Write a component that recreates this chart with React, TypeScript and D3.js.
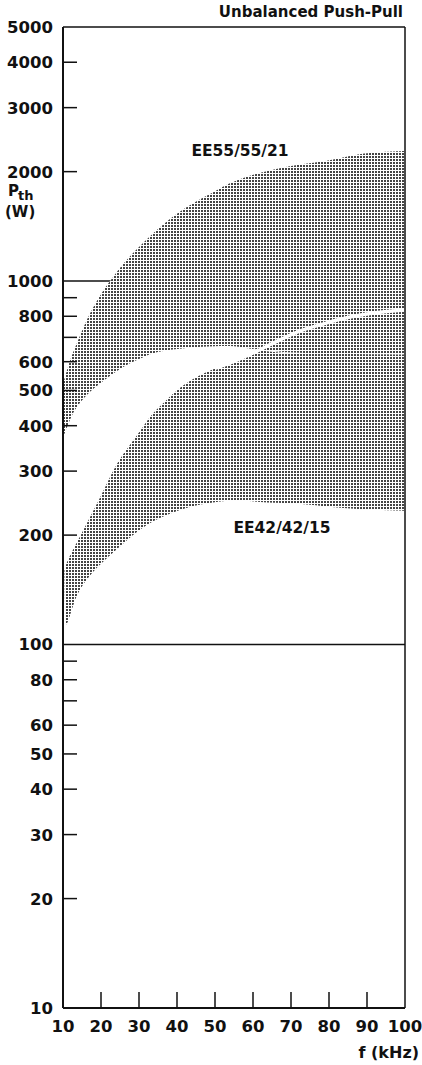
import React from "react";
import * as d3 from "d3";

// boundaries: [f (kHz), Pth (W)]
const ee55Upper: [number, number][] = [
  [10, 520], [12, 610], [13.9, 684], [17, 810], [20.3, 930], [22.4, 1000], [26, 1120],
  [31.6, 1288], [36, 1420], [42.1, 1586], [50, 1767], [52.6, 1830], [58, 1930],
  [65.8, 2030], [72, 2090], [79, 2140], [87.6, 2230], [94, 2265], [100, 2280],
];
const ee55Lower: [number, number][] = [
  [10, 370], [13, 440], [16.6, 490], [20, 525], [25.5, 577], [30, 610], [34, 634],
  [43, 655], [50, 662], [55, 662], [60, 650], [70, 634], [85, 632], [100, 630],
];
const ee42Upper: [number, number][] = [
  [10.4, 160], [11, 168], [15.3, 206], [19.7, 253], [24.2, 314], [30.3, 387],
  [33.5, 430], [37, 468], [41, 510], [44.7, 541], [50, 575], [55.3, 603], [60, 634],
  [66, 680], [72.4, 729], [79, 765], [85.5, 796], [92, 818], [100, 833],
];
const ee42Lower: [number, number][] = [
  [10.6, 113], [11, 114], [13.9, 138], [17.6, 157], [23.7, 181], [30.8, 209],
  [36.8, 226], [44.7, 241], [55.3, 249], [63.7, 246], [72, 244], [84.7, 237], [100, 233],
];

const yLabels = [5000, 4000, 3000, 2000, 1000, 800, 600, 500, 400, 300, 200, 100, 80, 60, 50, 40, 30, 20, 10];
const yTicks = [4000, 3000, 2000, 900, 800, 700, 600, 500, 400, 300, 200, 90, 80, 70, 60, 50, 40, 30, 20];
const yGrid = [1000, 100];
const xTicks = [10, 20, 30, 40, 50, 60, 70, 80, 90, 100];

const W = 422, H = 1065;
const left = 63, right = 405, top = 27, bottom = 1008;
const font = "'DejaVu Sans', sans-serif";

export default function App() {
  const x = d3.scaleLinear().domain([10, 100]).range([left, right]);
  const y = d3.scaleLog().domain([10, 5000]).range([bottom, top]);

  const line = d3.line<[number, number]>()
    .x(d => x(d[0]))
    .y(d => y(d[1]))
    .curve(d3.curveCatmullRom.alpha(0.5));

  const band = (up: [number, number][], low: [number, number][]) => {
    const a = line(up) as string;
    const b = (line([...low].reverse()) as string).replace(/^M/, "L");
    return a + b + "Z";
  };

  return (
    <svg width={W} height={H} style={{ position: "absolute", left: 0, top: 0, background: "#fff" }}>
      <defs>
        <pattern id="dots" width={3} height={3} patternUnits="userSpaceOnUse">
          <rect width={3} height={3} fill="#fff" />
          <rect width={2} height={2} fill="#444" />
        </pattern>
        <clipPath id="plot">
          <rect x={left} y={top} width={right - left} height={bottom - top} />
        </clipPath>
      </defs>

      {yGrid.map(v => (
        <line key={v} x1={left} x2={right} y1={y(v)} y2={y(v)} stroke="#111" strokeWidth={1.5} />
      ))}

      <g clipPath="url(#plot)">
        <path d={band(ee55Upper, ee55Lower)} fill="url(#dots)" />
        <path d={band(ee42Upper, ee42Lower)} fill="url(#dots)" />
        <path d={line(ee42Upper.filter(d => d[0] >= 50)) as string} fill="none" stroke="#fff" strokeWidth={3.5} />
        <path d={line(ee55Lower.filter(d => d[0] >= 60)) as string} fill="none" stroke="#fff" strokeWidth={1} />
      </g>

      {/* frame */}
      <line x1={left} x2={left} y1={top} y2={bottom} stroke="#111" strokeWidth={2} />
      <line x1={right} x2={right} y1={top} y2={bottom} stroke="#111" strokeWidth={1.5} />
      <line x1={left} x2={right} y1={top} y2={top} stroke="#111" strokeWidth={1.5} />
      <line x1={left} x2={right} y1={bottom} y2={bottom} stroke="#111" strokeWidth={2} />

      {yTicks.map(v => (
        <line key={v} x1={left} x2={left + 14} y1={y(v)} y2={y(v)} stroke="#111" strokeWidth={1.5} />
      ))}
      {xTicks.slice(1, -1).map(v => (
        <line key={v} x1={x(v)} x2={x(v)} y1={bottom} y2={bottom - 16} stroke="#111" strokeWidth={1.5} />
      ))}

      <g fontFamily={font} fontWeight="bold" fill="#111">
        {yLabels.map(v => (
          <text key={v} x={53} y={y(v)} dy="0.36em" textAnchor="end" fontSize={16.5}>{v}</text>
        ))}
        {xTicks.map(v => (
          <text key={v} x={x(v)} y={1032} textAnchor="middle" fontSize={16.5}>{v}</text>
        ))}
        <text x={419} y={1058} textAnchor="end" fontSize={16}>f (kHz)</text>
        <text x={403} y={17} textAnchor="end" fontSize={15}>Unbalanced Push-Pull</text>
        <text x={240} y={156} textAnchor="middle" fontSize={15.5}>EE55/55/21</text>
        <text x={282} y={533} textAnchor="middle" fontSize={15.5}>EE42/42/15</text>
        <text x={8} y={196} fontSize={15}>P</text>
        <text x={18} y={200} fontSize={13}>th</text>
        <text x={5} y={217} fontSize={15}>(W)</text>
      </g>
    </svg>
  );
}
